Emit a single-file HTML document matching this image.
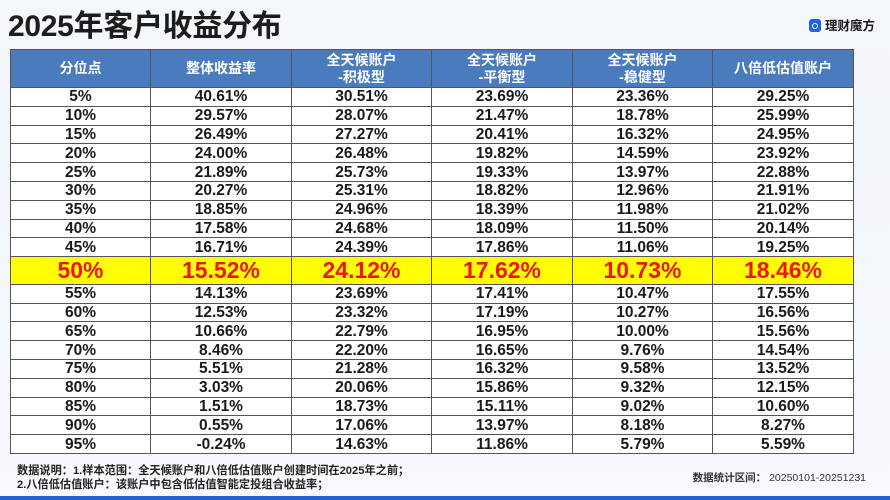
<!DOCTYPE html>
<html><head><meta charset="utf-8">
<style>
html,body{margin:0;padding:0;}
body{width:890px;height:500px;position:relative;overflow:hidden;
background:linear-gradient(180deg,#f4f7fc 0%,#f3f6fb 30%,#f7f9fd 100%);
font-family:"Liberation Sans","Noto Sans CJK SC",sans-serif;}
.title{position:absolute;left:8px;top:12px;font-size:30px;line-height:30px;font-weight:bold;color:#1c1c1c;white-space:nowrap;letter-spacing:-0.3px;}
.logo{position:absolute;left:809px;top:19px;width:12px;height:13px;border-radius:3px;background:#1e62e6;}
.logo:after{content:"";position:absolute;left:3px;top:3.5px;width:4px;height:4px;border:1.5px solid #fff;border-radius:50%;}
.logotxt{position:absolute;left:825px;top:18px;font-size:12.5px;line-height:16px;font-weight:bold;color:#1a1a1a;white-space:nowrap;}
table{position:absolute;left:10px;top:49px;width:843px;border-collapse:collapse;table-layout:fixed;background:#fff;}
td,th{border:1px solid #555;padding:0;text-align:center;vertical-align:middle;overflow:hidden;white-space:nowrap;}
th{background:#4a7bbf;color:#fff;font-size:14px;line-height:17px;font-weight:bold;height:37px;}
td{font-size:15.5px;line-height:15px;font-weight:bold;color:#1a1a1a;height:17.8px;}
tr.hl td{background:#ffff00;color:#ee1515;font-size:23px;line-height:22px;height:26.6px;}
.note{position:absolute;left:17px;font-size:11.2px;line-height:14px;font-weight:bold;color:#222;white-space:nowrap;}
.range{position:absolute;right:24px;top:471px;font-size:10.5px;line-height:14px;font-weight:bold;color:#333;white-space:nowrap;}
.bar{position:absolute;left:0;top:496px;width:890px;height:4px;background:#2262d8;}
</style></head><body>
<div class="title">2025年客户收益分布</div>
<div class="logo"></div>
<div class="logotxt">理财魔方</div>
<table>
<colgroup><col style="width:140px"><col style="width:141px"><col style="width:140px"><col style="width:141px"><col style="width:140px"><col style="width:141px"></colgroup>
<tr><th>分位点</th><th>整体收益率</th><th>全天候账户<br>-积极型</th><th>全天候账户<br>-平衡型</th><th>全天候账户<br>-稳健型</th><th>八倍低估值账户</th></tr>
<tr><td>5%</td><td>40.61%</td><td>30.51%</td><td>23.69%</td><td>23.36%</td><td>29.25%</td></tr>
<tr><td>10%</td><td>29.57%</td><td>28.07%</td><td>21.47%</td><td>18.78%</td><td>25.99%</td></tr>
<tr><td>15%</td><td>26.49%</td><td>27.27%</td><td>20.41%</td><td>16.32%</td><td>24.95%</td></tr>
<tr><td>20%</td><td>24.00%</td><td>26.48%</td><td>19.82%</td><td>14.59%</td><td>23.92%</td></tr>
<tr><td>25%</td><td>21.89%</td><td>25.73%</td><td>19.33%</td><td>13.97%</td><td>22.88%</td></tr>
<tr><td>30%</td><td>20.27%</td><td>25.31%</td><td>18.82%</td><td>12.96%</td><td>21.91%</td></tr>
<tr><td>35%</td><td>18.85%</td><td>24.96%</td><td>18.39%</td><td>11.98%</td><td>21.02%</td></tr>
<tr><td>40%</td><td>17.58%</td><td>24.68%</td><td>18.09%</td><td>11.50%</td><td>20.14%</td></tr>
<tr><td>45%</td><td>16.71%</td><td>24.39%</td><td>17.86%</td><td>11.06%</td><td>19.25%</td></tr>
<tr class="hl"><td>50%</td><td>15.52%</td><td>24.12%</td><td>17.62%</td><td>10.73%</td><td>18.46%</td></tr>
<tr><td>55%</td><td>14.13%</td><td>23.69%</td><td>17.41%</td><td>10.47%</td><td>17.55%</td></tr>
<tr><td>60%</td><td>12.53%</td><td>23.32%</td><td>17.19%</td><td>10.27%</td><td>16.56%</td></tr>
<tr><td>65%</td><td>10.66%</td><td>22.79%</td><td>16.95%</td><td>10.00%</td><td>15.56%</td></tr>
<tr><td>70%</td><td>8.46%</td><td>22.20%</td><td>16.65%</td><td>9.76%</td><td>14.54%</td></tr>
<tr><td>75%</td><td>5.51%</td><td>21.28%</td><td>16.32%</td><td>9.58%</td><td>13.52%</td></tr>
<tr><td>80%</td><td>3.03%</td><td>20.06%</td><td>15.86%</td><td>9.32%</td><td>12.15%</td></tr>
<tr><td>85%</td><td>1.51%</td><td>18.73%</td><td>15.11%</td><td>9.02%</td><td>10.60%</td></tr>
<tr><td>90%</td><td>0.55%</td><td>17.06%</td><td>13.97%</td><td>8.18%</td><td>8.27%</td></tr>
<tr><td>95%</td><td>-0.24%</td><td>14.63%</td><td>11.86%</td><td>5.79%</td><td>5.59%</td></tr>
</table>
<div class="note" style="top:464px">数据说明：1.样本范围：全天候账户和八倍低估值账户创建时间在2025年之前；</div>
<div class="note" style="top:478px">2.八倍低估值账户：该账户中包含低估值智能定投组合收益率；</div>
<div class="range">数据统计区间： <span style="font-weight:normal">20250101-20251231</span></div>
<div class="bar"></div>
</body></html>
